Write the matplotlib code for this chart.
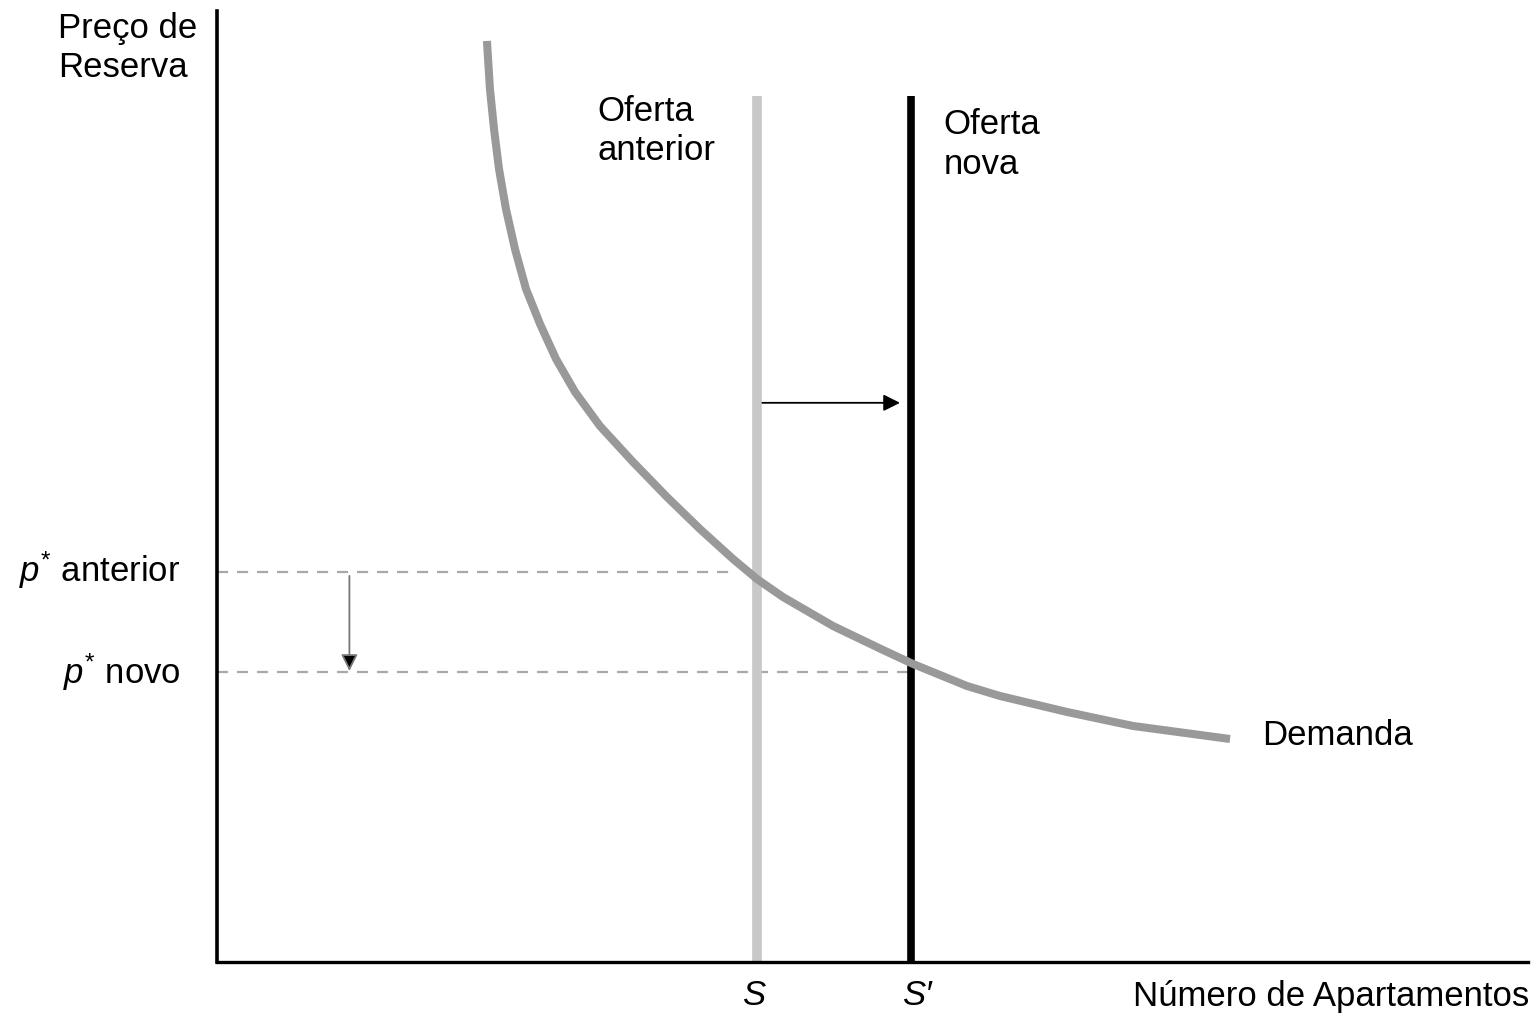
import matplotlib.pyplot as plt

# demand curve (quantity, reservation price)
demand_q = [20.59, 20.82, 21.13, 21.51, 22.04, 22.73, 23.57, 24.64, 25.86, 27.31, 29.21, 31.73,
            34.32, 36.84, 39.36, 41.19, 43.17, 46.99, 50.80, 53.09, 57.21, 59.73, 64.84, 69.87, 77.27]
demand_p = [96.85, 91.80, 87.59, 83.39, 79.18, 74.97, 70.77, 67.09, 63.41, 59.94, 56.36, 52.58,
            48.90, 45.53, 42.38, 40.27, 38.38, 35.33, 32.81, 31.34, 29.02, 27.97, 26.29, 24.82, 23.45]

supply_old = 41.2   # S
supply_new = 52.9   # S'
supply_top = 91.1
p_old = 41.0        # p* anterior
p_new = 30.5        # p* novo

plt.rcParams['font.family'] = ['Liberation Sans', 'DejaVu Sans']
plt.rcParams['mathtext.fontset'] = 'custom'
plt.rcParams['mathtext.it'] = 'Liberation Sans:italic'
plt.rcParams['mathtext.rm'] = 'Liberation Sans'

fig = plt.figure(figsize=(15.4, 10.2), dpi=100)
ax = fig.add_axes([217 / 1540, 57 / 1020, 1311 / 1540, 951 / 1020])
ax.set_xlim(0, 100)
ax.set_ylim(0, 100)

for side in ['top', 'right']:
    ax.spines[side].set_visible(False)
ax.spines['left'].set_linewidth(2.6)
ax.spines['bottom'].set_linewidth(2.4)
ax.set_xticks([])
ax.set_yticks([])

# dashed equilibrium price lines
ax.plot([0, 39.6], [p_old, p_old], color='#a8a8a8', lw=1.6, ls=(0, (5, 4)))
ax.plot([0, supply_new], [p_new, p_new], color='#a8a8a8', lw=1.6, ls=(0, (5, 4)))

# supply lines
ax.plot([supply_old, supply_old], [0, supply_top], color='#c8c8c8', lw=7, solid_capstyle='butt')
ax.plot([supply_new, supply_new], [0, supply_top], color='black', lw=5.5, solid_capstyle='butt')

# demand curve
ax.plot(demand_q, demand_p, color='#999999', lw=5.8, solid_capstyle='butt', solid_joinstyle='round')

# shift arrows
ax.annotate('', xy=(52.1, 58.8), xytext=(41.6, 58.8),
            arrowprops=dict(arrowstyle='-|>', color='black', lw=1.3, mutation_scale=25,
                            shrinkA=0, shrinkB=0))
ax.annotate('', xy=(10.1, 30.6), xytext=(10.1, 40.6),
            arrowprops=dict(arrowstyle='-|>', color='#777777', lw=1.3, mutation_scale=25,
                            shrinkA=0, shrinkB=0, fc='black', ec='#777777'))

fs = 25
ax.text(-12.1, 100.0, 'Preço de\nReserva', fontsize=fs, va='top', ha='left',
        linespacing=1.25, clip_on=False)
ax.text(29.0, 91.3, 'Oferta\nanterior', fontsize=fs, va='top', ha='left', linespacing=1.25)
ax.text(55.4, 89.9, 'Oferta\nnova', fontsize=fs, va='top', ha='left', linespacing=1.25)
ax.text(79.7, 23.9, 'Demanda', fontsize=fs, va='center', ha='left')

ax.text(-2.8, p_old + 0.3, r'$p^{*}$ anterior', fontsize=fs, va='center', ha='right', clip_on=False)
ax.text(-2.8, p_new + 0.1, r'$p^{*}$ novo', fontsize=fs, va='center', ha='right', clip_on=False)

ax.text(supply_old - 0.3, -3.4, 'S', fontsize=fs, style='italic', va='center', ha='center', clip_on=False)
ax.text(supply_new + 0.5, -3.4, "S′", fontsize=fs, style='italic', va='center', ha='center', clip_on=False)
ax.text(100.1, -3.5, 'Número de Apartamentos', fontsize=fs, va='center', ha='right', clip_on=False)

fig.savefig('out.png', dpi=100, facecolor='white')
